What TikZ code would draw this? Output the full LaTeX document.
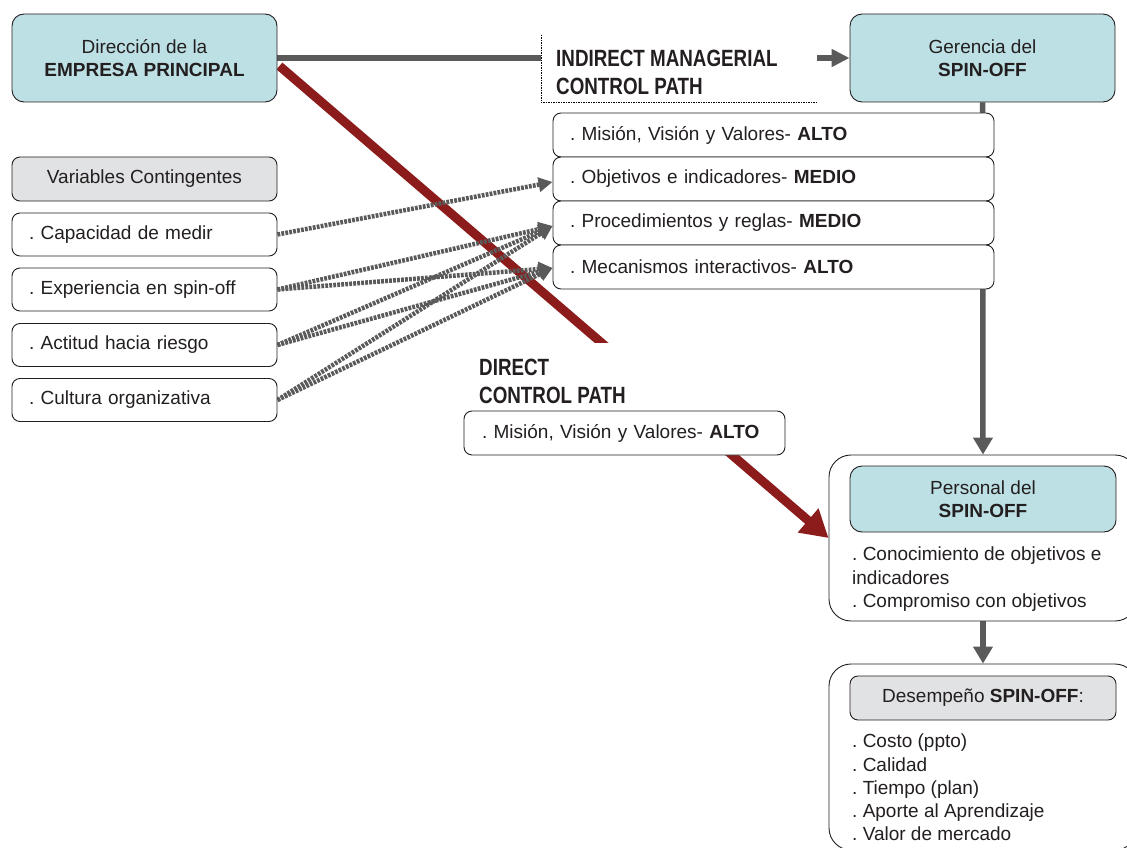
\documentclass[tikz,border=0pt]{standalone}
\usepackage{fontspec}
\setmainfont{Liberation Sans}
\newfontfamily\condfont[FakeStretch=0.8]{Liberation Sans}
\usetikzlibrary{arrows.meta,calc}
\definecolor{cyanfill}{HTML}{BDE0E4}
\definecolor{greyfill}{HTML}{E1E2E4}
\definecolor{linegrey}{HTML}{5A5A5A}
\definecolor{darkred}{HTML}{8C1C1C}
\definecolor{txt}{HTML}{231F20}
\pgfdeclarelayer{background}
\pgfsetlayers{background,main}
\frenchspacing
\begin{document}
\begin{tikzpicture}[x=1pt,y=-1pt,
  every node/.style={text=txt, font=\fontsize{19}{23}\selectfont},
  basebox/.style={draw=txt, line width=0.9pt, rounded corners=8pt, inner sep=0pt},
  bigbox/.style={basebox, fill=cyanfill, rounded corners=12pt, minimum width=265pt, minimum height=88pt, align=center},
  varbox/.style={basebox, fill=white, minimum width=265pt, minimum height=43pt, text width=231pt, align=left},
  varhead/.style={basebox, fill=greyfill, minimum width=265pt, minimum height=44pt, align=center},
  listbox/.style={basebox, fill=white, minimum width=441pt, minimum height=44pt, text width=407pt, align=left},
  outerbox/.style={basebox, fill=white, rounded corners=22pt, minimum width=308pt},
  bgpatch/.style={fill=white, inner sep=0pt},
  pathlab/.style={font=\condfont\bfseries\fontsize{23.5}{28}\selectfont, anchor=north west, align=left, inner sep=0pt},
  plaintext/.style={anchor=north west, align=left, inner sep=0pt},
  greyline/.style={draw=linegrey, line width=5.5pt},
  greyarrow/.style={greyline, -{Triangle[length=17pt,width=19pt]}},
  redarrow/.style={draw=darkred, line width=9pt, -{Triangle[length=27pt,width=30pt]}},
  dotconn/.style={draw=linegrey, line width=4.5pt, dash pattern=on 2.8pt off 1.2pt, -{Triangle[length=14pt,width=14pt]}},
  framedash/.style={draw=black, line width=0.6pt, dash pattern=on 1.5pt off 1pt}
]
\useasboundingbox (0,0) rectangle (1127,848);
\clip (0,0) rectangle (1127,848);

% top boxes
\node[bigbox] (dir) at (144.5,58) {Dirección de la\\\textbf{EMPRESA PRINCIPAL}};
\node[bigbox] (ger) at (982.5,58) {Gerencia del\\\textbf{SPIN-OFF}};

% indirect label
\node[bgpatch, minimum width=276pt, minimum height=67pt] (indbg) at (679,68.5) {};
\node[pathlab] (ind) at (556,49.5) {INDIRECT MANAGERIAL\\CONTROL PATH};
\draw[framedash] (indbg.north west) -- (indbg.south west) -- (indbg.south east);

% contingent variables
\node[varhead] (varh) at (144.5,179) {Variables Contingentes};
\node[varbox] (cap) at (144.5,234.5) {. Capacidad de medir};
\node[varbox] (exp) at (144.5,289.5) {. Experiencia en spin-off};
\node[varbox] (act) at (144.5,345) {. Actitud hacia riesgo};
\node[varbox] (cul) at (144.5,400) {. Cultura organizativa};

% indirect control list
\node[listbox] (mis) at (773.5,135) {. Misión, Visión y Valores- \textbf{ALTO}};
\node[listbox] (obj) at (773.5,179) {. Objetivos e indicadores- \textbf{MEDIO}};
\node[listbox] (pro) at (773.5,223) {. Procedimientos y reglas- \textbf{MEDIO}};
\node[listbox] (mec) at (773.5,267) {. Mecanismos interactivos- \textbf{ALTO}};

% direct label
\node[bgpatch, minimum width=321pt, minimum height=76pt] (dirbg) at (624.5,381) {};
\node[pathlab] (dlab) at (479,358.5) {DIRECT\\CONTROL PATH};
\node[basebox, fill=white, minimum width=321pt, minimum height=44pt, text width=285pt, align=left] (dmis) at (624.5,433) {. Misión, Visión y Valores- \textbf{ALTO}};

% personal
\node[outerbox, minimum height=166pt] (pers) at (983,538) {};
\node[bigbox, minimum width=266pt, minimum height=66pt] (perst) at (983,499) {Personal del\\\textbf{SPIN-OFF}};
\node[plaintext, font=\fontsize{19}{23.5}\selectfont] (perstx) at (852,547) {. Conocimiento de objetivos e\\indicadores\\. Compromiso con objetivos};

% desempeno
\node[outerbox, minimum height=186pt] (des) at (983,757) {};
\node[varhead, minimum width=266pt] (dest) at (983,698) {Desempeño \textbf{SPIN-OFF}:};
\node[plaintext, font=\fontsize{19}{23.25}\selectfont] (destx) at (852,734) {. Costo (ppto)\\. Calidad\\. Tiempo (plan)\\. Aporte al Aprendizaje\\. Valor de mercado};

\begin{pgfonlayer}{background}
  \draw[greyarrow] (ger.south) -- (pers.north);
  \draw[greyarrow] (pers.south) -- (des.north);
  \draw[greyline] (dir.east) -- (dir.east -| indbg.west);
  \draw[greyline, -{Triangle[length=18pt,width=17pt]}] (ger.west -| indbg.east) -- (ger.west);
  \draw[redarrow] ($(dir.east)+(2,8)$) -- (pers.west);
  \draw[dotconn] (cap.east) -- ([yshift=-3pt]obj.west);
  \draw[dotconn] (exp.east) -- ([yshift=-3pt]pro.west);
  \draw[dotconn] (exp.east) -- ([yshift=-1pt]mec.west);
  \draw[dotconn] (act.east) -- ([yshift=-3pt]pro.west);
  \draw[dotconn] (act.east) -- ([yshift=-1pt]mec.west);
  \draw[dotconn] (cul.east) -- ([yshift=-3pt]pro.west);
  \draw[dotconn] (cul.east) -- ([yshift=-1pt]mec.west);
\end{pgfonlayer}
\end{tikzpicture}
\end{document}
